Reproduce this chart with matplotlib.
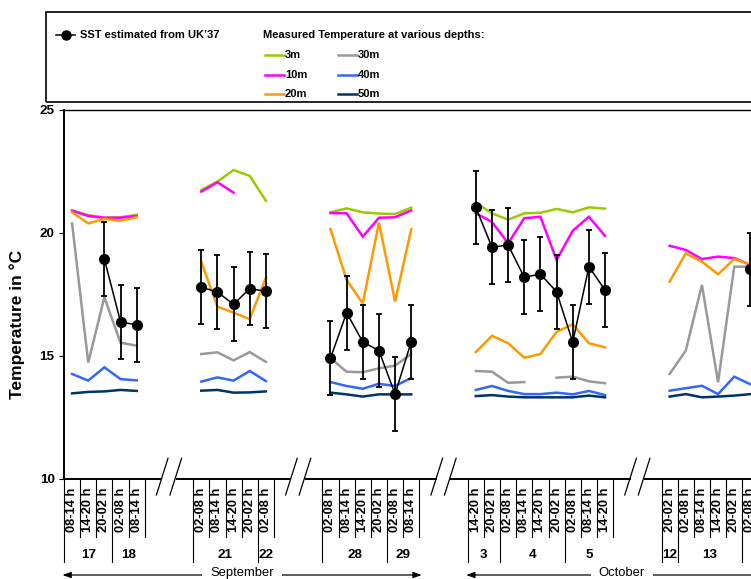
import numpy as np
import matplotlib
matplotlib.use("Agg")
import matplotlib.pyplot as plt
from matplotlib.lines import Line2D
from matplotlib.patches import Rectangle
from matplotlib import font_manager as fm

# ---------------- data ----------------
days = ["17", "18", "21", "22", "28", "29", "3", "4", "5", "12", "13", "14"]
day_slot_labels = [
    ["08-14 h", "14-20 h", "20-02 h"], ["02-08 h", "08-14 h"],
    ["02-08 h", "08-14 h", "14-20 h", "20-02 h"], ["02-08 h"],
    ["02-08 h", "08-14 h", "14-20 h", "20-02 h"], ["02-08 h", "08-14 h"],
    ["14-20 h", "20-02 h"], ["02-08 h", "08-14 h", "14-20 h", "20-02 h"],
    ["02-08 h", "08-14 h", "14-20 h"],
    ["20-02 h"], ["02-08 h", "08-14 h", "14-20 h", "20-02 h"], ["02-08 h", "08-14 h"],
]
day_group = [0, 0, 1, 1, 2, 2, 3, 3, 3, 4, 4, 4]
months = ["September", "October"]
month_groups = [[0, 1, 2], [3, 4]]

nan = np.nan
sst = [nan, nan, 18.92, 16.37, 16.24,
       17.78, 17.58, 17.08, 17.72, 17.61,
       14.89, 16.74, 15.55, 15.20, 13.43, 15.56,
       21.02, 19.40, 19.49, 18.18, 18.31, 17.59, 15.54, 18.61, 17.66,
       nan, nan, nan, nan, nan, 18.50, nan]
sst_err = [nan, nan, 1.5, 1.5, 1.5,
           1.5, 1.5, 1.5, 1.5, 1.5,
           1.5, 1.5, 1.5, 1.5, 1.5, 1.5,
           1.5, 1.5, 1.5, 1.5, 1.5, 1.5, 1.5, 1.5, 1.5,
           nan, nan, nan, nan, nan, 1.5, nan]
t3m = [20.89, 20.71, 20.60, 20.62, 20.72,
       21.73, 22.07, 22.54, 22.30, 21.29,
       20.82, 20.98, 20.82, 20.77, 20.75, 21.01,
       21.21, 20.78, 20.52, 20.78, 20.80, 20.96, 20.82, 21.02, 20.97,
       nan, nan, nan, nan, nan, nan, nan]
t10m = [20.89, 20.67, 20.60, 20.60, 20.67,
        21.66, 22.04, 21.62, nan, nan,
        20.79, 20.78, 19.83, 20.60, 20.62, 20.90,
        20.78, 20.43, 19.56, 20.58, 20.64, 18.88, 20.07, 20.64, 19.86,
        19.46, 19.29, 18.92, 19.02, 18.96, 18.68, nan]
t20m = [20.82, 20.37, 20.55, 20.48, 20.62,
        18.81, 16.98, 16.74, 16.48, 18.16,
        20.14, 18.07, 17.12, 20.40, 17.19, 20.13,
        15.14, 15.80, 15.50, 14.91, 15.06, 15.96, 16.27, 15.50, 15.33,
        18.00, 19.15, 18.81, 18.30, 18.92, 18.71, nan]
t30m = [20.37, 14.71, 17.37, 15.52, 15.40,
        15.06, 15.13, 14.80, 15.14, 14.74,
        14.89, 14.34, 14.32, 14.48, 14.59, 15.06,
        14.37, 14.34, 13.89, 13.92, nan, 14.10, 14.14, 13.95, 13.87,
        14.25, 15.20, 17.87, 13.91, 18.61, 18.61, nan]
t40m = [14.25, 13.98, 14.52, 14.04, 13.99,
        13.94, 14.11, 13.98, 14.37, 13.96,
        13.92, 13.76, 13.65, 13.85, 13.76, 14.09,
        13.60, 13.76, 13.56, 13.43, 13.43, 13.49, 13.42, 13.56, 13.39,
        13.57, 13.67, 13.77, 13.43, 14.14, 13.83, nan]
t50m = [13.46, 13.52, 13.54, 13.60, 13.56,
        13.57, 13.60, 13.49, 13.50, 13.54,
        13.49, 13.42, 13.33, 13.42, 13.42, 13.42,
        13.35, 13.39, 13.33, 13.30, 13.30, 13.30, 13.30, 13.37, 13.30,
        13.33, 13.43, 13.30, 13.33, 13.37, 13.43, nan]

depth_labels = ["3m", "10m", "20m", "30m", "40m", "50m"]
depth_series = [t3m, t10m, t20m, t30m, t40m, t50m]
depth_colors = ["#99cc00", "#ff00ff", "#ff9900", "#999999", "#3366ff", "#003366"]

# ---------------- fonts ----------------
def has_font(name):
    try:
        fm.findfont(fm.FontProperties(family=name), fallback_to_default=False)
        return True
    except Exception:
        return False

BASE = "Liberation Sans" if has_font("Liberation Sans") else "DejaVu Sans"
plt.rcParams["font.family"] = [BASE, "DejaVu Sans"]
if has_font("Liberation Sans Narrow"):
    LEG_FAM, LEG_SIZE = ["Liberation Sans Narrow", "DejaVu Sans"], 9.7
else:
    LEG_FAM, LEG_SIZE = [BASE, "DejaVu Sans"], 8.0

# ---------------- layout ----------------
W, H = 751, 579
fig = plt.figure(figsize=(W / 100, H / 100), dpi=100)
SLOT_PX = 16.15
XMAX = 46
AX_L, AX_T, AX_B = 64, 109.5, 478.5
ax = fig.add_axes([AX_L / W, 1 - AX_B / H, XMAX * SLOT_PX / W, (AX_B - AX_T) / H])
ax.set_xlim(0, XMAX)
ax.set_ylim(10, 25)

def ya(ypx):
    return (AX_B - ypx) / (AX_B - AX_T)

def fx(xpx):
    return xpx / W

def fy(ypx):
    return 1 - ypx / H

group_start = [0, 8, 16, 25, 37]
x_slots, slot_group, slot_labels, day_spans = [], [], [], []
group_end = {}
prev = None
pos = 0
for labs, g in zip(day_slot_labels, day_group):
    if g != prev:
        pos = group_start[g]
        prev = g
    start = pos
    for lab in labs:
        x_slots.append(pos + 0.5)
        slot_group.append(g)
        slot_labels.append(lab)
        pos += 1
    day_spans.append((start, pos))
    group_end[g] = pos
x_slots = np.array(x_slots)
slot_group = np.array(slot_group)

# ---------------- series ----------------
for vals, col in zip(depth_series, depth_colors):
    v = np.array(vals, dtype=float)
    for g in range(len(group_start)):
        m = slot_group == g
        ax.plot(x_slots[m], v[m], color=col, lw=1.8, solid_joinstyle="miter", zorder=2)

s = np.array(sst, dtype=float)
e = np.array(sst_err, dtype=float)
for g in range(len(group_start)):
    m = slot_group == g
    ax.errorbar(x_slots[m], s[m], yerr=e[m], fmt="-o", color="black", lw=1.1,
                ms=7, elinewidth=1.3, capsize=2.4, capthick=1.3, zorder=4)

# ---------------- axes styling ----------------
for sp in ["right"]:
    ax.spines[sp].set_visible(False)
ax.spines["left"].set_linewidth(1.4)
ax.spines["bottom"].set_linewidth(1.4)
ax.spines["top"].set_linewidth(1.0)
ax.set_xticks([])
ax.set_yticks([10, 15, 20, 25])
ax.tick_params(axis="y", direction="out", length=3.3, width=0.8, pad=3.5,
               labelsize=9.7)
for t in ax.get_yticklabels():
    t.set_fontweight("bold")
ax.set_ylabel("Temperature in °C", fontsize=12.5, fontweight="bold")
ax.yaxis.set_label_coords((25 - AX_L) / (XMAX * SLOT_PX), ya(324))

xt = ax.get_xaxis_transform()

# slot separators & labels
for d, (st, en) in enumerate(day_spans):
    ax.plot([st, st], [0, ya(562)], transform=xt, color="k", lw=0.8,
            clip_on=False, zorder=5)
    for k in range(st + 1, en):
        ax.plot([k, k], [0, ya(537)], transform=xt, color="k", lw=0.8,
                clip_on=False, zorder=5)
    last_of_group = (d == len(day_spans) - 1) or (day_group[d + 1] != day_group[d])
    if last_of_group:
        ax.plot([en, en], [0, ya(537)], transform=xt, color="k", lw=0.8,
                clip_on=False, zorder=5)
    ax.text((st + en) / 2, ya(555), days[d], transform=xt, ha="center",
            va="center", fontsize=9.7, fontweight="bold")

for x, lab in zip(x_slots, slot_labels):
    ax.text(x, ya(487.5), lab, transform=xt, rotation=90, ha="center", va="top",
            fontsize=9.3, fontweight="bold")

# axis breaks
for g in range(len(group_start) - 1):
    c = (group_end[g] + group_start[g + 1]) / 2
    ax.plot([c - 0.42, c + 0.42], [0, 0], transform=xt, color="white", lw=3,
            clip_on=False, zorder=6, solid_capstyle="butt")
    for off in (-0.42, 0.42):
        ax.plot([c + off - 0.36, c + off + 0.36], [ya(495), ya(458.3)],
                transform=xt, color="k", lw=0.9, clip_on=False, zorder=7)

# months
for name, gs in zip(months, month_groups):
    x0 = group_start[gs[0]] - 0.1
    x1 = group_end[gs[-1]] + 0.15
    ax.annotate("", xy=(x0, ya(575)), xytext=(x1, ya(575)), xycoords=xt,
                textcoords=xt,
                arrowprops=dict(arrowstyle="<|-|>,head_length=0.5,head_width=0.18",
                                lw=0.9, color="k", shrinkA=0, shrinkB=0),
                annotation_clip=False, zorder=1)
    ax.text((x0 + x1) / 2, ya(573), name, transform=xt, ha="center", va="center",
            fontsize=9.4, zorder=2,
            bbox=dict(boxstyle="square,pad=0.6", fc="white", ec="none"))

# ---------------- legend box ----------------
fig.add_artist(Rectangle((fx(46), fy(102)), fx(900) - fx(46), fy(12) - fy(102),
                         transform=fig.transFigure, fill=False, ec="black", lw=1.2))
fig.add_artist(Line2D([fx(56), fx(75)], [fy(35), fy(35)], transform=fig.transFigure,
                      color="black", lw=1.1))
fig.add_artist(Line2D([fx(65.5)], [fy(35)], transform=fig.transFigure,
                      marker="o", ms=6.5, color="black", lw=0))
fig.text(fx(80), fy(35), "SST estimated from UK’37", family=LEG_FAM,
         fontsize=LEG_SIZE, fontweight="bold", va="center", ha="left")
fig.text(fx(263), fy(35), "Measured Temperature at various depths:", family=LEG_FAM,
         fontsize=LEG_SIZE, fontweight="bold", va="center", ha="left")
leg_cols_x = [265, 338]
leg_rows_y = [55, 74.5, 94]
for i, (lab, col) in enumerate(zip(depth_labels, depth_colors)):
    cx = leg_cols_x[i // 3]
    ry = leg_rows_y[i % 3]
    fig.add_artist(Line2D([fx(cx), fx(cx + 19)], [fy(ry), fy(ry)],
                          transform=fig.transFigure, color=col, lw=1.8))
    fig.text(fx(cx + 20), fy(ry), lab, family=LEG_FAM, fontsize=LEG_SIZE,
             fontweight="bold", va="center", ha="left")

fig.savefig("out.png", dpi=100)
